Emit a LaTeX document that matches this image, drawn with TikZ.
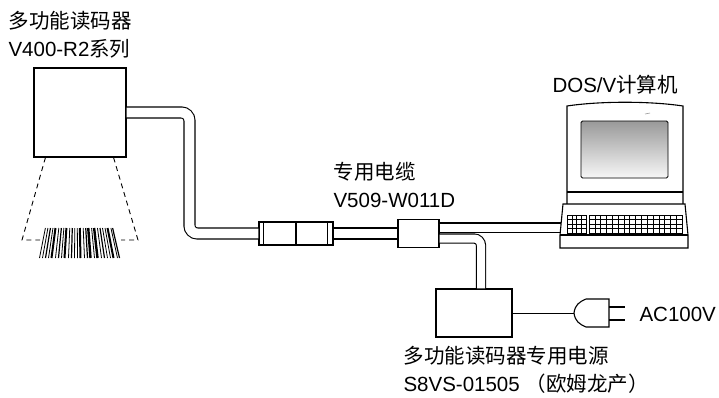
\documentclass[tikz,border=0pt]{standalone}
\usepackage{fontspec}
\setmainfont{Liberation Sans}
\newfontfamily\cjk{Noto Sans CJK SC}
\usetikzlibrary{positioning}

\begin{document}
\begin{tikzpicture}[x=1pt, y=-1pt, line width=1.1pt,
    every node/.style={inner sep=0pt},
    lbl/.style={font=\fontsize{20.5}{27.5}\selectfont, align=left},
    unit/.style={draw, fill=white},
    cable/.style={double, double distance=9.9pt, rounded corners=8pt},
    thincable/.style={cable, double distance=8pt, rounded corners=7pt},
    fov/.style={dash pattern=on 5pt off 4pt, line width=0.9pt},
    keys/.style={line width=0.5pt}]
  \useasboundingbox (0,0) rectangle (719,397);

  % reader, inline connectors and power supply
  \node[unit, minimum width=92pt, minimum height=89pt] (reader) at (80,112.5) {};
  \node[unit, minimum width=74pt, minimum height=23pt] (conn1) at (296,233.5) {};
  \node[unit, minimum width=41pt, minimum height=28pt] (conn2) at (418.5,233.5) {};
  \node[unit, minimum width=76pt, minimum height=48pt] (psu) at (474,313) {};
  \draw ([xshift=5pt]conn1.north west) -- ([xshift=5pt]conn1.south west)
        (conn1.north) -- (conn1.south)
        ([xshift=-6pt]conn1.north east) -- ([xshift=-6pt]conn1.south east);

  % labels
  \node[lbl, anchor=north west] (readerlbl) at (8,11) {{\cjk 多功能读码器}\\V400-R2{\cjk 系列}};
  \node[lbl, anchor=north west] (cablelbl) at (333,162) {{\cjk 专用电缆}\\V509-W011D};
  \node[lbl, anchor=north west] (pclbl) at (552,75) {DOS/V{\cjk 计算机}};
  \node[lbl, anchor=north west] (psulbl) at (403,346) {{\cjk 多功能读码器专用电源}\\S8VS-01505 {\cjk （欧姆龙产）}};
  \node[lbl, anchor=west] (aclbl) at (639,314) {AC100V};

  % field of view and barcode
  \draw[fov] ([xshift=12pt]reader.south west) -- (22,240) -- (40,240);
  \draw[fov] ([xshift=-13pt]reader.south east) -- (138,240) -- (121,240);
  \foreach \d/\w in {-40/0.8,-37/0.8,-34/1.2,-31/0.8,-28/2,-24/0.8,-21/1.2,-18/0.8,
                     -15/2,-11/0.8,-8/1.2,-5/0.8,-2/0.8,1/2,5/0.8,8/1.2,11/2.4,15/0.8,
                     18/2.4,22/0.8,25/1.2,28/0.8,31/0.8,34/2,38/0.8,40/1.2}
    \draw[line width=\w pt] ({79.5+\d},258) -- ({79+0.84*\d},228);

  % cables
  \coordinate (pc) at (562,227.5);
  \coordinate (plug) at (574,313);
  \draw[cable] (reader.east) -| ([xshift=-69pt]conn1.west) -- (conn1.west);
  \draw[cable] (conn1.east) -- (conn2.west);
  \draw[thincable] ([yshift=6pt]conn2.east) -- (pc);
  \draw[thincable] ([yshift=-5pt]conn2.east) -| ([xshift=7pt]psu.north);
  \draw[line width=0.9pt] (psu.east) -- (plug);

  % mains plug
  \draw[fill=white] (plug) .. controls (575,305) and (579,302) .. (586,299) -- (609,299)
    -- (609,327) -- (586,327) .. controls (579,324) and (575,321) .. (plug) -- cycle;
  \draw (609,307) -- (625,307) (609,320) -- (625,320);

  % computer
  \draw[fill=white] (567,204) -- (567,106) .. controls (600,101) and (650,101) .. (683,106) -- (683,204);
  \draw (567,192) -- (683,192);
  \draw[rounded corners=1.5pt, top color=black!40, bottom color=black!3, line width=0.9pt]
    (581,121) rectangle (668,178);
  \draw[black!40, line width=0.6pt] (645,114) -- (650,113);
  \draw[fill=white] (563,204) -- (685,204) -- (688,235) -- (688,248) -- (560,248) -- (560,235) -- cycle;
  \draw (560,235) -- (688,235);
  \draw[keys] (567,215) rectangle (586,233);
  \foreach \i in {1,2,3} {
    \draw[keys] ({567+4.75*\i},215) -- ({567+4.75*\i},233);
    \draw[keys] (567,{215+4.5*\i}) -- (586,{215+4.5*\i});
    \draw[keys] (589,{215+4.5*\i}) -- (682,{215+4.5*\i});
  }
  \draw[keys] (589,215) rectangle (682,233);
  \foreach \i in {1,...,15}
    \draw[keys] ({589+5.8125*\i},215) -- ({589+5.8125*\i},233);
\end{tikzpicture}
\end{document}
